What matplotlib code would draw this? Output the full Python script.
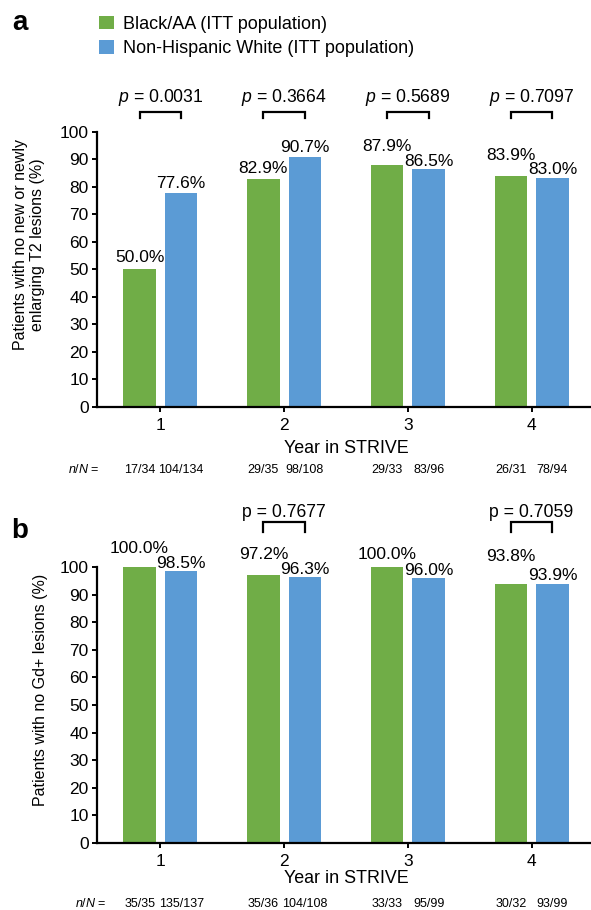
import matplotlib
matplotlib.use('Agg')
import matplotlib.pyplot as plt
from matplotlib.patches import Patch

plt.rcParams['font.family'] = ['Liberation Sans', 'DejaVu Sans']
plt.rcParams['mathtext.fontset'] = 'custom'
plt.rcParams['mathtext.rm'] = 'Liberation Sans'
plt.rcParams['mathtext.it'] = 'Liberation Sans:italic'

# ---------------- data ----------------
years = [1, 2, 3, 4]
year_labels = ['1', '2', '3', '4']
series_names = ['Black/AA (ITT population)', 'Non-Hispanic White (ITT population)']

t2_black = [50.0, 82.9, 87.9, 83.9]
t2_white = [77.6, 90.7, 86.5, 83.0]
t2_black_nN = ['17/34', '29/35', '29/33', '26/31']
t2_white_nN = ['104/134', '98/108', '83/96', '78/94']
t2_pvals = ['0.0031', '0.3664', '0.5689', '0.7097']

gd_black = [100.0, 97.2, 100.0, 93.8]
gd_white = [98.5, 96.3, 96.0, 93.9]
gd_black_nN = ['35/35', '35/36', '33/33', '30/32']
gd_white_nN = ['135/137', '104/108', '95/99', '93/99']
gd_pvals = [None, '0.7677', None, '0.7059']

yticks = list(range(0, 101, 10))

# ---------------- style / layout ----------------
GREEN = '#70AD47'
BLUE = '#5B9BD5'
BW = 0.263
OFF = 0.168
W, H = 591, 910

fig = plt.figure(figsize=(W / 100, H / 100), dpi=100)


def axes_rect(left_px, top_px, bottom_px, right_px):
    return [left_px / W, 1 - bottom_px / H, (right_px - left_px) / W, (bottom_px - top_px) / H]


def panel(ax, black, white, bnN, wnN, pvals, p_italic, ggap, wgap,
          br_top, br_leg, p_base, ylabel, ylab_x, ylab_y, year_off, nn_off, nn_lab_x):
    xb = [y - OFF for y in years]
    xw = [y + OFF for y in years]
    ax.bar(xb, black, BW, color=GREEN, label=series_names[0], zorder=2)
    ax.bar(xw, white, BW, color=BLUE, label=series_names[1], zorder=2)
    ax.set_xlim(0.488, 4.48)
    ax.set_ylim(0, 100)
    ax.set_yticks(yticks)
    ax.set_xticks(years)
    ax.set_xticklabels(year_labels)
    for s in ['top', 'right']:
        ax.spines[s].set_visible(False)
    for s in ['left', 'bottom']:
        ax.spines[s].set_linewidth(1.6)
    ax.tick_params(axis='both', labelsize=12.5, width=1.4, length=3.5, pad=2.5)
    ax.tick_params(axis='x', pad=4.5)

    # value labels
    for x, v, g in zip(xb, black, ggap):
        ax.annotate(f'{v:.1f}%', xy=(x, v), xytext=(0, g), textcoords='offset pixels',
                    ha='center', va='baseline', fontsize=12.5, annotation_clip=False)
    for x, v, g in zip(xw, white, wgap):
        ax.annotate(f'{v:.1f}%', xy=(x, v), xytext=(0, g), textcoords='offset pixels',
                    ha='center', va='baseline', fontsize=12.5, annotation_clip=False)

    # p-value brackets
    for yr, a, b, p in zip(years, xb, xw, pvals):
        if p is None:
            continue
        ax.plot([a, a, b, b], [br_leg, br_top, br_top, br_leg], color='black', lw=1.6,
                clip_on=False, solid_joinstyle='miter', zorder=3)
        ptxt = ('$p$' if p_italic else 'p') + ' = ' + p
        ax.text(yr, p_base, ptxt, ha='center', va='baseline', fontsize=12.7, clip_on=False)

    # x label and n/N row
    trans = ax.get_xaxis_transform()
    ax.annotate('Year in STRIVE', xy=(2.5, 0), xycoords=trans, xytext=(0, -year_off),
                textcoords='offset pixels', ha='center', va='baseline', fontsize=12.9)
    for x, t in zip(xb, bnN):
        ax.annotate(t, xy=(x, 0), xycoords=trans, xytext=(0, -nn_off),
                    textcoords='offset pixels', ha='center', va='baseline', fontsize=9)
    for x, t in zip(xw, wnN):
        ax.annotate(t, xy=(x, 0), xycoords=trans, xytext=(0, -nn_off),
                    textcoords='offset pixels', ha='center', va='baseline', fontsize=9)
    ax.annotate('$n/N$ =', xy=(0, 0), xycoords='axes fraction', xytext=(nn_lab_x - 97, -nn_off),
                textcoords='offset pixels', ha='right', va='baseline', fontsize=9,
                annotation_clip=False)

    fig.text(ylab_x / W, 1 - ylab_y / H, ylabel, rotation=90, ha='center', va='center',
             fontsize=11.5, multialignment='center', linespacing=1.15)


# Panel a
ax_a = fig.add_axes(axes_rect(97, 131.7, 406.7, 591))
panel(ax_a, t2_black, t2_white, t2_black_nN, t2_white_nN, t2_pvals, True,
      [7, 6, 14, 16], [5, 5, 3, 4],
      107.3, 104.9, 110.8,
      'Patients with no new or newly\nenlarging T2 lesions (%)', 29, 245,
      46, 66, 100)

# Panel b
ax_b = fig.add_axes(axes_rect(97, 567, 843, 591))
panel(ax_b, gd_black, gd_white, gd_black_nN, gd_white_nN, gd_pvals, False,
      [14, 16, 8, 23], [3, 3, 3, 4],
      116.2, 112.8, 118.1,
      'Patients with no Gd+ lesions (%)', 41, 690,
      40, 64, 107)

# legend
handles = [Patch(facecolor=GREEN, edgecolor='none'), Patch(facecolor=BLUE, edgecolor='none')]
fig.legend(handles, series_names, loc='upper left', bbox_to_anchor=(99 / W, 1 - 16 / H),
           frameon=False, fontsize=13, handlelength=0.85, handleheight=0.75,
           handletextpad=0.5, labelspacing=0.4, borderpad=0, borderaxespad=0)

# panel letters
fig.text(20 / W, 1 - 23 / H, 'a', fontsize=20, fontweight='bold', ha='center', va='center')
fig.text(20 / W, 1 - 531 / H, 'b', fontsize=20, fontweight='bold', ha='center', va='center')

fig.savefig('out.png', dpi=100)
